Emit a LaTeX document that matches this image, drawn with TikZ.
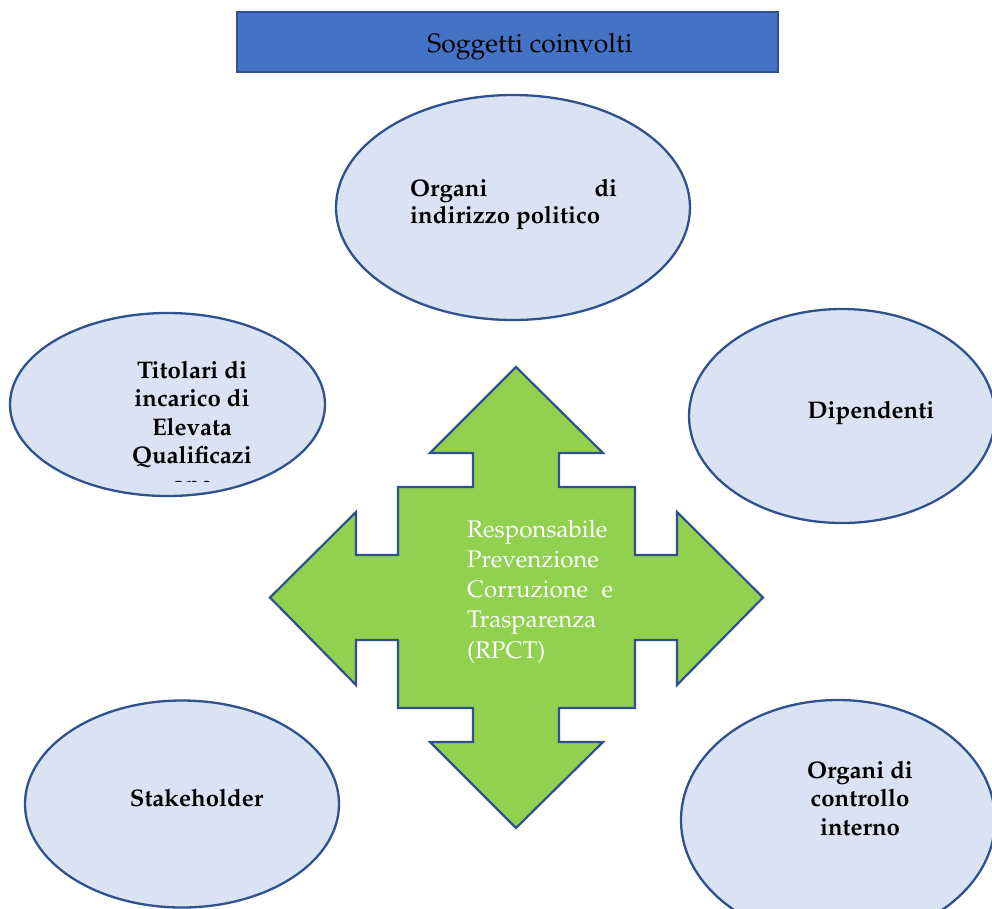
\documentclass[tikz,border=0pt]{standalone}
\usepackage[T1]{fontenc}
\usepackage{mathpazo}
\usetikzlibrary{shapes.geometric}
\definecolor{titlefill}{HTML}{4472C4}
\definecolor{darkblue}{HTML}{2F528F}
\definecolor{ellfill}{HTML}{DAE3F3}
\definecolor{crossfill}{HTML}{92D050}
\begin{document}
\begin{tikzpicture}[x=1pt,y=-1pt,
  ell/.style={ellipse, draw=darkblue, line width=2.3pt, fill=ellfill, inner sep=0pt, outer sep=0pt},
  boldtext/.style={font=\fontsize{24}{28.5}\selectfont\bfseries, inner sep=0pt, text=black},
  crosstext/.style={font=\fontsize{24}{30.3}\selectfont, inner sep=0pt, text=white},
  titlebox/.style={draw=darkblue, line width=2.5pt, fill=titlefill, inner sep=0pt,
    minimum width=541pt, minimum height=60pt},
]
\useasboundingbox (0,0) rectangle (992,908);
\clip (0,0) rectangle (992,908);

% title
\node[titlebox] (title) at (507.5,42) {};
\node[font=\fontsize{26.5}{30}\selectfont, inner sep=0pt, anchor=base] (titletext) at (530,52) {Soggetti coinvolti};

% ellipses
\node[ell, minimum width=354pt, minimum height=225pt] (top) at (513,207.5) {};
\node[ell, minimum width=315pt, minimum height=183pt] (left) at (167.5,404.5) {};
\node[ell, minimum width=306pt, minimum height=214pt] (right) at (842,416) {};
\node[ell, minimum width=314pt, minimum height=207pt] (botleft) at (182,804) {};
\node[ell, minimum width=314pt, minimum height=240pt] (botright) at (838,820) {};

% cross (double arrows)
\draw[draw=darkblue, line width=2.2pt, fill=crossfill, line join=miter]
  (516,367) -- (603,453) -- (559,453) -- (559,487) -- (635,487) -- (635,555)
  -- (677,555) -- (677,512) -- (763,597.5) -- (677,685) -- (677,640) -- (635,640)
  -- (635,708) -- (559,708) -- (559,742) -- (603,742) -- (516,828) -- (430,742)
  -- (473,742) -- (473,708) -- (398,708) -- (398,640) -- (356,640) -- (356,685)
  -- (270,597.5) -- (356,512) -- (356,555) -- (398,555) -- (398,487) -- (473,487)
  -- (473,453) -- (430,453) -- cycle;

% texts
\node[crosstext, anchor=base west] (rpct) at (467,537)
  {\parbox[t]{146pt}{\raggedright Responsabile\\Prevenzione\\Corruzione\hfill e\\Trasparenza\\(RPCT)}};

\node[boldtext, anchor=base west] (toptext) at (410,196)
  {\parbox[t]{207pt}{\fontsize{24}{27}\selectfont Organi\hfill di\\indirizzo politico}};

\begin{scope}
  \clip (0,0) rectangle (992,481.5);
  \node[boldtext, anchor=base] (lefttext) at (192,378)
    {\parbox[t]{200pt}{\centering Titolari di\\incarico di\\Elevata\\Qualificazi\\one}};
\end{scope}

\node[boldtext, anchor=base] (righttext) at (871,418) {Dipendenti};
\node[boldtext, anchor=base] (bltext) at (196.5,806) {Stakeholder};
\node[boldtext, anchor=base] (brtext) at (860,778)
  {\parbox[t]{200pt}{\centering Organi di\\controllo\\interno}};
\end{tikzpicture}
\end{document}
